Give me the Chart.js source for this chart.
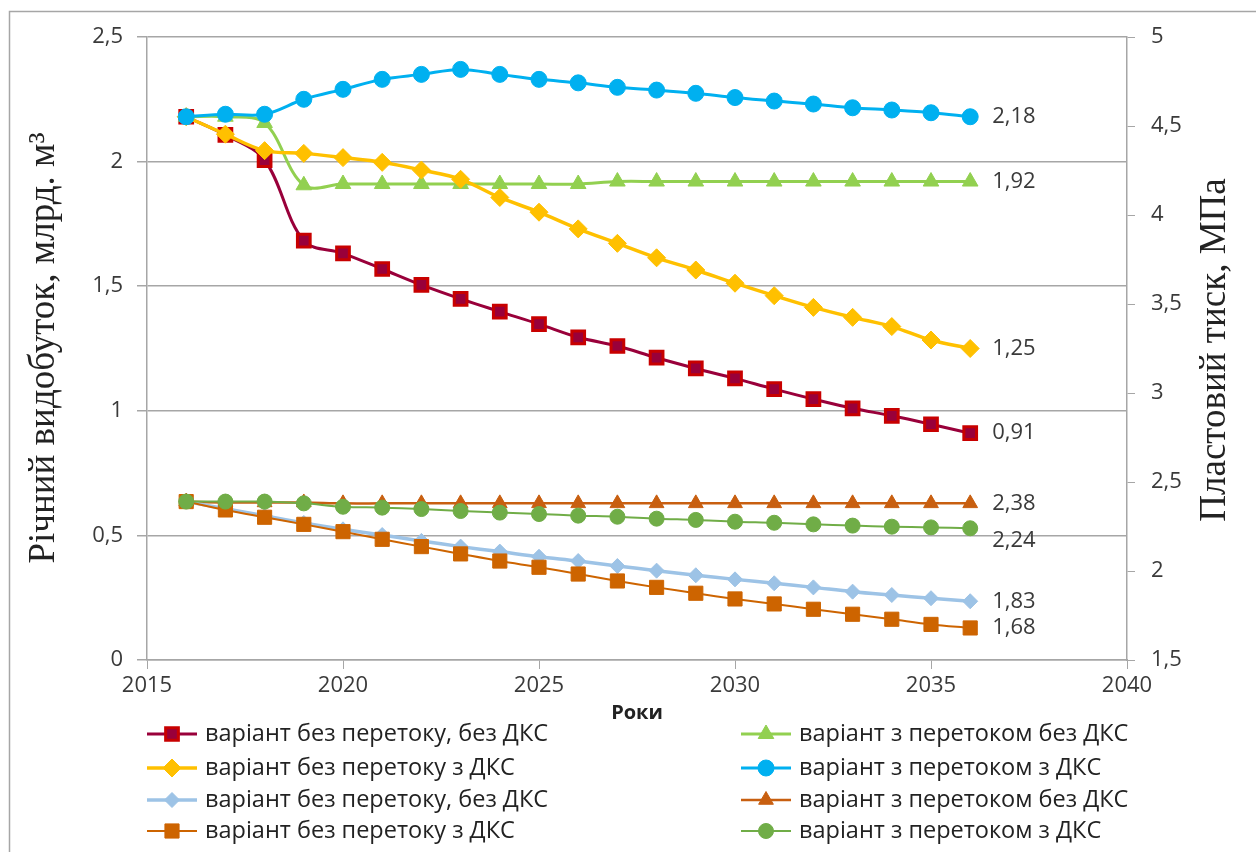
<!DOCTYPE html>
<html>
<head>
<meta charset="utf-8">
<script src="https://cdn.jsdelivr.net/npm/chart.js@4.4.0/dist/chart.umd.min.js"></script>
<style>
  html, body { margin: 0; padding: 0; background: #fff; }
  #wrap { width: 1256px; height: 852px; position: relative; }
</style>
</head>
<body>
<div id="wrap"><canvas id="chart"></canvas></div>
<script>
// years on the x axis
const years = [2016, 2017, 2018, 2019, 2020, 2021, 2022, 2023, 2024, 2025, 2026,
  2027, 2028, 2029, 2030, 2031, 2032, 2033, 2034, 2035, 2036];

// annual production, bcm (left axis)
const noFlowNoDks = [2.18, 2.107, 2.006, 1.683, 1.632, 1.569, 1.505, 1.449, 1.398, 1.348, 1.295,
  1.26, 1.213, 1.17, 1.13, 1.087, 1.047, 1.01, 0.98, 0.946, 0.91];
const noFlowDks = [2.18, 2.11, 2.044, 2.033, 2.016, 1.997, 1.966, 1.929, 1.856, 1.797, 1.73,
  1.672, 1.614, 1.565, 1.512, 1.462, 1.415, 1.375, 1.338, 1.284, 1.25];
const flowNoDks = [2.18, 2.18, 2.155, 1.905, 1.91, 1.91, 1.91, 1.91, 1.91, 1.91, 1.91,
  1.92, 1.92, 1.92, 1.92, 1.92, 1.92, 1.92, 1.92, 1.92, 1.92];
const flowDks = [2.18, 2.19, 2.19, 2.25, 2.29, 2.33, 2.35, 2.37, 2.35, 2.33, 2.316,
  2.298, 2.287, 2.274, 2.257, 2.243, 2.231, 2.216, 2.207, 2.196, 2.18];

// reservoir pressure, MPa (right axis)
const noFlowNoDksP = [2.39, 2.35, 2.31, 2.27, 2.234, 2.202, 2.169, 2.137, 2.109, 2.08, 2.056,
  2.028, 2.002, 1.976, 1.953, 1.931, 1.908, 1.884, 1.865, 1.847, 1.83];
const noFlowDksP = [2.39, 2.343, 2.302, 2.262, 2.221, 2.178, 2.137, 2.096, 2.056, 2.021, 1.983,
  1.944, 1.908, 1.875, 1.843, 1.815, 1.785, 1.757, 1.729, 1.70, 1.68];
const flowNoDksP = [2.39, 2.385, 2.385, 2.385, 2.38, 2.38, 2.38, 2.38, 2.38, 2.38, 2.38,
  2.38, 2.38, 2.38, 2.38, 2.38, 2.38, 2.38, 2.38, 2.38, 2.38];
const flowDksP = [2.39, 2.39, 2.39, 2.38, 2.361, 2.356, 2.348, 2.337, 2.328, 2.32, 2.311,
  2.305, 2.294, 2.287, 2.277, 2.271, 2.262, 2.255, 2.249, 2.245, 2.24];

const seriesNames = [
  "варіант без перетоку, без ДКС",
  "варіант без перетоку з ДКС",
  "варіант без перетоку, без ДКС",
  "варіант без перетоку з ДКС",
  "варіант з перетоком без ДКС",
  "варіант з перетоком з ДКС",
  "варіант з перетоком без ДКС",
  "варіант з перетоком з ДКС",
];

const xTicks = [2015, 2020, 2025, 2030, 2035, 2040];

const FONT = '"Open Sans", "DejaVu Sans", sans-serif';
const GRID = "#a6a6a6";
const TEXT = "#3a3a3a";

function pts(vals) {
  return vals.map((v, i) => ({ x: years[i], y: v }));
}
function comma(v) {
  return String(v).replace(".", ",");
}

function series(label, vals, axis, color, style, o) {
  return Object.assign({
    label: label,
    data: pts(vals),
    yAxisID: axis,
    borderColor: color,
    backgroundColor: color,
    pointBackgroundColor: color,
    pointBorderColor: color,
    pointStyle: style,
    borderWidth: 3,
    pointBorderWidth: 1,
    tension: 0.35,
    endOffset: 0,
  }, o);
}

const datasets = [
  series(seriesNames[0], noFlowNoDks, "y", "#99003a", "rect",
    { pointRadius: 9, pointBorderWidth: 3, pointBorderColor: "#c80000", order: 4 }),
  series(seriesNames[1], noFlowDks, "y", "#ffc000", "rectRot",
    { pointRadius: 9, borderWidth: 3.5, order: 2 }),
  series(seriesNames[2], noFlowNoDksP, "y1", "#9dc3e6", "rectRot",
    { pointRadius: 7.5, borderWidth: 3.5, order: 3 }),
  series(seriesNames[3], noFlowDksP, "y1", "#cd6400", "rect",
    { pointRadius: 10, borderWidth: 2, order: 2 }),
  series(seriesNames[4], flowNoDks, "y", "#92d050", "triangle",
    { pointRadius: 9, order: 3 }),
  series(seriesNames[5], flowDks, "y", "#00b0f0", "circle",
    { pointRadius: 8, order: 1 }),
  series(seriesNames[6], flowNoDksP, "y1", "#c85f10", "triangle",
    { pointRadius: 8.5, borderWidth: 2.5, order: 4 }),
  series(seriesNames[7], flowDksP, "y1", "#70ad47", "circle",
    { pointRadius: 7.5, borderWidth: 2, order: 1, endOffset: 12 }),
];

function marker(ctx, ds, x, y) {
  ctx.save();
  ctx.fillStyle = ds.pointBackgroundColor;
  ctx.strokeStyle = ds.pointBorderColor;
  ctx.lineWidth = ds.pointBorderWidth;
  Chart.helpers.drawPoint(ctx, {
    pointStyle: ds.pointStyle,
    radius: ds.pointRadius,
    rotation: 0,
    borderWidth: ds.pointBorderWidth,
  }, x, y);
  ctx.restore();
}

const extras = {
  id: "extras",
  beforeDraw(chart) {
    const ctx = chart.ctx;
    ctx.save();
    ctx.fillStyle = "#fff";
    ctx.fillRect(0, 0, chart.width, chart.height);
    ctx.strokeStyle = GRID;
    ctx.lineWidth = 1.5;
    ctx.strokeRect(9.5, 11.5, chart.width + 20, chart.height + 20);
    ctx.restore();
  },
  afterDraw(chart) {
    const ctx = chart.ctx;
    ctx.save();
    // end of line value labels
    ctx.font = "22px " + FONT;
    ctx.fillStyle = TEXT;
    ctx.textBaseline = "middle";
    ctx.textAlign = "left";
    chart.data.datasets.forEach((ds, i) => {
      const meta = chart.getDatasetMeta(i);
      const last = meta.data[meta.data.length - 1];
      const v = ds.data[ds.data.length - 1].y;
      ctx.fillText(comma(v), last.x + 22, last.y + ds.endOffset);
    });

    // axis titles
    ctx.fillStyle = "#222";
    ctx.textAlign = "center";
    ctx.font = '37px "Liberation Serif", "Times New Roman", serif';
    ctx.save();
    ctx.translate(44, 348);
    ctx.rotate(-Math.PI / 2);
    ctx.fillText("Річний видобуток, млрд. м³", 0, 0);
    ctx.restore();
    ctx.save();
    ctx.translate(1215, 350);
    ctx.rotate(-Math.PI / 2);
    ctx.fillText("Пластовий тиск, МПа", 0, 0);
    ctx.restore();
    ctx.font = "bold 20px " + FONT;
    ctx.fillText("Роки", 637, 713);

    // legend, two columns
    ctx.font = "23.5px " + FONT;
    ctx.textAlign = "left";
    const rows = [734, 768, 800, 831];
    chart.data.datasets.forEach((ds, i) => {
      const col = i < 4 ? 0 : 1;
      const y = rows[i % 4];
      const cx = col ? 766 : 172;
      ctx.strokeStyle = ds.borderColor;
      ctx.lineWidth = ds.borderWidth;
      ctx.beginPath();
      ctx.moveTo(cx - 25, y);
      ctx.lineTo(cx + 25, y);
      ctx.stroke();
      marker(ctx, ds, cx, y);
      ctx.fillStyle = "#222";
      ctx.fillText(ds.label, cx + 33, y);
    });
    ctx.restore();
  },
};

new Chart(document.getElementById("chart"), {
  type: "line",
  data: { datasets: datasets },
  options: {
    responsive: true,
    maintainAspectRatio: false,
    animation: false,
    layout: { padding: { left: 0, right: 0, top: 37, bottom: 132 } },
    plugins: { legend: { display: false }, tooltip: { enabled: false } },
    scales: {
      x: {
        type: "linear",
        min: xTicks[0],
        max: xTicks[xTicks.length - 1],
        afterBuildTicks: (s) => { s.ticks = xTicks.map((v) => ({ value: v })); },
        afterFit: (s) => { s.height = 60; },
        grid: { drawOnChartArea: false, color: GRID, tickLength: 9 },
        border: { color: GRID, width: 1.5 },
        ticks: {
          font: { size: 22, family: FONT },
          color: TEXT,
          padding: 4,
          maxRotation: 0,
          callback: (v) => String(v),
        },
      },
      y: {
        position: "left",
        min: 0,
        max: 2.5,
        afterFit: (s) => { s.width = 147; },
        grid: { color: GRID, lineWidth: 1.5, tickLength: 10 },
        border: { color: GRID, width: 1.5 },
        ticks: {
          stepSize: 0.5,
          font: { size: 22, family: FONT },
          color: TEXT,
          padding: 14,
          callback: (v) => comma(v),
        },
      },
      y1: {
        position: "right",
        min: 1.5,
        max: 5,
        afterFit: (s) => { s.width = 129; },
        grid: { drawOnChartArea: false, color: GRID, tickLength: 8 },
        border: { color: GRID, width: 1.5 },
        ticks: {
          stepSize: 0.5,
          font: { size: 22, family: FONT },
          color: TEXT,
          padding: 16,
          callback: (v) => comma(v),
        },
      },
    },
  },
  plugins: [extras],
});
</script>
</body>
</html>
